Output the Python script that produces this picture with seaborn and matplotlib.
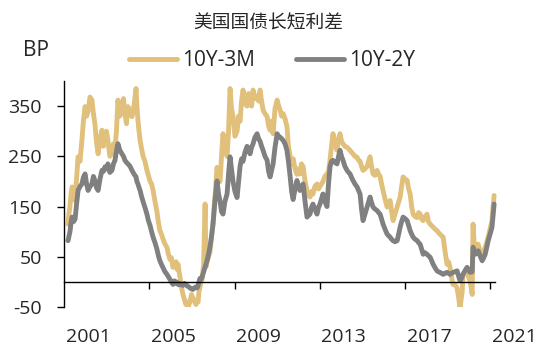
#!/usr/bin/env python3

# US Treasury term spreads: 10Y-3M and 10Y-2Y, in basis points

import matplotlib
matplotlib.use("Agg")
import matplotlib.pyplot as plt
import seaborn as sns
import pandas as pd

# decimal years of the sampled points
years = [
    2001.19, 2001.23, 2001.28, 2001.33, 2001.38, 2001.45, 2001.52, 2001.59, 2001.66, 2001.75,
    2001.84, 2001.91, 2001.99, 2002.06, 2002.13, 2002.22, 2002.31, 2002.38, 2002.45, 2002.52,
    2002.60, 2002.69, 2002.78, 2002.85, 2002.92, 2002.99, 2003.06, 2003.15, 2003.25, 2003.32,
    2003.39, 2003.46, 2003.53, 2003.62, 2003.72, 2003.79, 2003.86, 2003.93, 2004.00, 2004.10,
    2004.19, 2004.28, 2004.38, 2004.42, 2004.47, 2004.52, 2004.57, 2004.64, 2004.71, 2004.80,
    2004.89, 2004.96, 2005.04, 2005.11, 2005.18, 2005.27, 2005.36, 2005.43, 2005.50, 2005.57,
    2005.65, 2005.74, 2005.83, 2005.90, 2005.97, 2006.04, 2006.11, 2006.18, 2006.26, 2006.30,
    2006.35, 2006.40, 2006.44, 2006.51, 2006.58, 2006.65, 2006.72, 2006.77, 2006.82, 2006.86,
    2006.91, 2006.98, 2007.05, 2007.12, 2007.19, 2007.24, 2007.29, 2007.33, 2007.38, 2007.43,
    2007.48, 2007.55, 2007.62, 2007.66, 2007.71, 2007.78, 2007.85, 2007.92, 2007.99, 2008.08,
    2008.18, 2008.25, 2008.32, 2008.39, 2008.46, 2008.55, 2008.65, 2008.72, 2008.79, 2008.86,
    2008.93, 2009.02, 2009.12, 2009.19, 2009.26, 2009.33, 2009.40, 2009.49, 2009.59, 2009.66,
    2009.73, 2009.80, 2009.87, 2009.96, 2010.06, 2010.13, 2010.20, 2010.27, 2010.34, 2010.43,
    2010.53, 2010.60, 2010.67, 2010.74, 2010.81, 2010.90, 2011.00, 2011.07, 2011.14, 2011.21,
    2011.28, 2011.37, 2011.46, 2011.53, 2011.61, 2011.68, 2011.75, 2011.84, 2011.93, 2012.00,
    2012.07, 2012.14, 2012.22, 2012.31, 2012.40, 2012.47, 2012.54, 2012.61, 2012.68, 2012.77,
    2012.87, 2012.94, 2013.01, 2013.08, 2013.15, 2013.24, 2013.34, 2013.41, 2013.48, 2013.55,
    2013.62, 2013.71, 2013.81, 2013.88, 2013.95, 2014.02, 2014.09, 2014.18, 2014.28, 2014.35,
    2014.42, 2014.49, 2014.56, 2014.65, 2014.75, 2014.82, 2014.89, 2014.96, 2015.03, 2015.12,
    2015.22, 2015.29, 2015.36, 2015.43, 2015.50, 2015.59, 2015.69, 2015.76, 2015.83, 2015.90,
    2015.97, 2016.06, 2016.16, 2016.23, 2016.30, 2016.37, 2016.44, 2016.53, 2016.63, 2016.70,
    2016.77, 2016.84, 2016.91, 2017.00, 2017.10, 2017.17, 2017.24, 2017.31, 2017.38, 2017.47,
    2017.57, 2017.64, 2017.71, 2017.78, 2017.85, 2017.94, 2018.03, 2018.10, 2018.18, 2018.25,
    2018.32, 2018.41, 2018.50, 2018.57, 2018.64, 2018.71, 2018.79, 2018.88, 2018.97, 2019.04,
    2019.11, 2019.18, 2019.25, 2019.34, 2019.44, 2019.51, 2019.58, 2019.63, 2019.68, 2019.72,
    2019.81, 2019.91, 2019.98, 2020.05, 2020.10, 2020.15, 2020.19, 2020.24, 2020.29, 2020.36,
    2020.43, 2020.52, 2020.62, 2020.69, 2020.76, 2020.83, 2020.90, 2020.99, 2021.08, 2021.13,
    2021.18,
]

spread_10y3m = [
    115, 135, 150, 175, 189, 168, 162, 205, 249, 240,
    282, 320, 349, 330, 340, 368, 362, 335, 315, 280,
    255, 285, 302, 270, 290, 300, 282, 250, 255, 275,
    262, 300, 362, 330, 349, 365, 335, 315, 349, 340,
    329, 350, 385, 350, 322, 300, 282, 265, 250, 240,
    222, 212, 200, 195, 182, 160, 140, 118, 102, 95,
    85, 75, 69, 55, 45, 48, 29, 38, 40, 25,
    35, 20, 10, -10, -25, -35, -45, -40, -53, -45,
    -40, -25, -33, -38, -45, -35, -40, -20, -10, 0,
    5, 35, 155, 30, 40, 50, 60, 90, 115, 170,
    228, 210, 200, 250, 295, 265, 250, 300, 385, 345,
    330, 290, 300, 330, 320, 360, 382, 355, 350, 375,
    362, 350, 382, 365, 370, 360, 382, 360, 342, 335,
    329, 310, 302, 320, 295, 345, 362, 350, 342, 330,
    335, 325, 309, 270, 250, 235, 245, 225, 214, 225,
    215, 235, 229, 200, 182, 172, 169, 180, 175, 190,
    195, 185, 190, 195, 200, 210, 215, 220, 242, 270,
    295, 275, 262, 285, 295, 280, 275, 270, 268, 265,
    262, 258, 255, 250, 248, 242, 240, 230, 222, 225,
    230, 240, 249, 230, 215, 212, 222, 215, 210, 195,
    182, 165, 149, 155, 162, 140, 122, 135, 149, 160,
    169, 190, 209, 205, 202, 185, 175, 150, 135, 130,
    128, 138, 135, 125, 122, 130, 135, 120, 115, 112,
    109, 105, 102, 98, 95, 92, 89, 60, 35, 40,
    29, 10, -5, -5, -12, -30, -51, -35, -20, 15,
    20, 22, 10, 2, -10, -25, 115, 80, 62, 70,
    75, 62, 55, 60, 69, 78, 89, 105, 122, 150,
    172,
]

spread_10y2y = [
    82, 90, 100, 118, 129, 120, 125, 155, 182, 190,
    195, 208, 215, 195, 182, 190, 195, 210, 202, 188,
    182, 205, 222, 220, 229, 225, 235, 218, 222, 235,
    242, 260, 275, 262, 255, 250, 242, 238, 235, 230,
    222, 215, 209, 200, 195, 188, 182, 170, 160, 148,
    135, 122, 112, 100, 89, 78, 65, 52, 42, 35,
    28, 20, 15, 10, 5, 0, -5, 2, 0, -4,
    -2, -6, -3, -5, -7, -3, -5, -8, -9, -10,
    -12, -14, -15, -12, -10, -12, -8, 0, 7, 5,
    10, 20, 30, 35, 42, 55, 70, 90, 115, 160,
    201, 175, 161, 140, 135, 160, 175, 215, 249, 225,
    200, 180, 168, 200, 230, 245, 240, 258, 270, 262,
    255, 268, 275, 288, 295, 285, 280, 270, 262, 250,
    242, 220, 209, 222, 235, 268, 295, 290, 288, 285,
    282, 275, 262, 240, 210, 180, 164, 185, 202, 190,
    182, 190, 195, 160, 129, 132, 135, 148, 155, 145,
    135, 148, 155, 165, 175, 160, 150, 195, 229, 240,
    242, 238, 235, 250, 262, 250, 242, 230, 222, 218,
    215, 208, 202, 195, 189, 182, 175, 145, 122, 135,
    149, 160, 169, 158, 149, 145, 142, 138, 135, 125,
    115, 105, 95, 92, 89, 85, 82, 80, 82, 95,
    109, 120, 129, 126, 122, 112, 102, 95, 89, 85,
    82, 78, 75, 65, 55, 58, 55, 52, 49, 42,
    35, 28, 22, 20, 19, 17, 15, 17, 19, 17,
    15, 17, 19, 20, 22, 12, 2, 6, 10, 15,
    22, 29, 24, 19, 20, 20, 69, 62, 55, 58,
    62, 52, 42, 48, 55, 68, 82, 95, 109, 132,
    155,
]

series_names = ["10Y-3M", "10Y-2Y"]
series_colors = ["#E0C07A", "#808080"]
y_ticks = [-50, 50, 150, 250, 350]
x_major = [2005, 2009, 2013, 2017, 2021]
x_labels = ["2001", "2005", "2009", "2013", "2017", "2021"]


def main():
    sns.set_style("white")
    plt.rcParams["font.family"] = ["Open Sans", "Noto Sans CJK SC", "DejaVu Sans"]
    plt.rcParams["axes.unicode_minus"] = False

    df = pd.DataFrame({"year": years, "10Y-3M": spread_10y3m, "10Y-2Y": spread_10y2y})
    long = df.melt(id_vars="year", var_name="series", value_name="bp")

    fig = plt.figure(figsize=(5.59, 3.56), dpi=100)
    ax = fig.add_axes([64 / 559, 1 - 307 / 356, (518 - 64) / 559, (307 - 81) / 356])

    sns.lineplot(data=long, x="year", y="bp", hue="series", hue_order=series_names,
                 palette=series_colors, linewidth=3.5, ax=ax, legend=True,
                 solid_capstyle="round", solid_joinstyle="round")

    ax.set_xlim(2001, 2022.3)
    ax.set_ylim(-50, 400)
    ax.set_xlabel("")
    ax.set_ylabel("")

    for side in ["top", "right"]:
        ax.spines[side].set_visible(False)
    ax.spines["bottom"].set_position(("data", 0))
    ax.spines["bottom"].set_bounds(2001, 2021.2)
    ax.spines["left"].set_bounds(-50, 400)
    for side in ["bottom", "left"]:
        ax.spines[side].set_color("black")
        ax.spines[side].set_linewidth(1)

    ax.set_yticks(y_ticks)
    ax.set_yticklabels([str(v) for v in y_ticks])
    ax.tick_params(axis="y", which="major", direction="out", length=5, width=1,
                   color="black", labelsize=14, pad=11, left=True)

    # tick marks on the zero line, year labels set below the plot
    ax.set_xticks(x_major)
    ax.set_xticklabels([""] * len(x_major))
    label_pos = [y + 1.13 for y in [2001, 2005, 2009, 2013, 2017, 2021]]
    ax.set_xticks(label_pos, minor=True)
    ax.set_xticklabels(x_labels, minor=True)
    ax.tick_params(axis="x", which="major", direction="out", length=5, width=1,
                   color="black", bottom=True)
    ax.tick_params(axis="x", which="minor", length=0, labelsize=14, pad=33)

    leg = ax.legend(loc="center", bbox_to_anchor=(272 / 559, 1 - 61 / 356),
                    bbox_transform=fig.transFigure, ncol=2, frameon=False,
                    fontsize=15, handlelength=2.3, handletextpad=0.25,
                    columnspacing=2.0, borderpad=0)
    for line in leg.get_lines():
        line.set_linewidth(3.5)
        line.set_solid_capstyle("round")

    fig.text(268 / 559, 1 - 23 / 356, "美国国债长短利差", ha="center", va="center",
             fontsize=13.5, family=["Noto Sans CJK SC", "DejaVu Sans"])
    fig.text(23 / 559, 1 - 50 / 356, "BP", ha="left", va="center", fontsize=15)

    fig.savefig("out.png", dpi=100)


if __name__ == "__main__":
    main()
